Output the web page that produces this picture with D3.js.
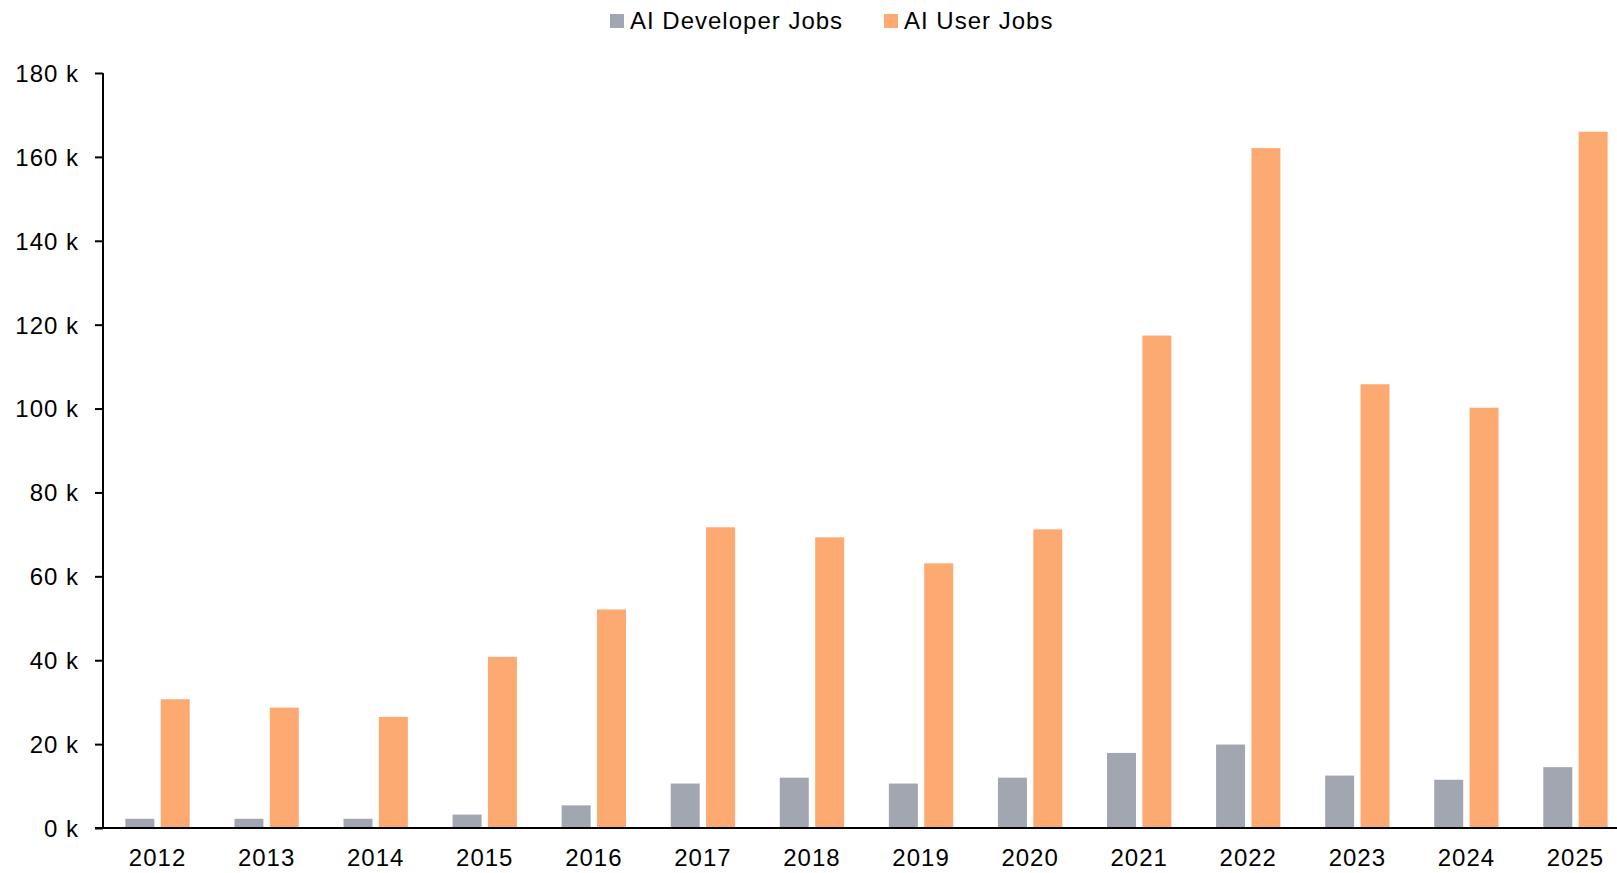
<!DOCTYPE html>
<html lang="en">
<head>
    <meta charset="UTF-8">
    <title>AI jobs</title>
    <script src="https://d3js.org/d3.v7.min.js"></script>
    <style>
        body {
            margin: 0;
            padding: 0;
            background: #fff;
            overflow: hidden;
        }

        #chart text {
            font-family: "Liberation Sans", Arial, sans-serif;
            font-size: 24px;
            letter-spacing: 1px;
            fill: #000;
        }
    </style>
</head>
<body>
<svg id="chart" width="1617" height="873"></svg>
<script>
    var years = ['2012', '2013', '2014', '2015', '2016', '2017', '2018', '2019', '2020', '2021', '2022', '2023', '2024', '2025'];
    var developerJobs = [2.2, 2.2, 2.2, 3.2, 5.4, 10.6, 12.0, 10.6, 12.0, 17.9, 19.9, 12.5, 11.5, 14.5];
    var userJobs = [30.7, 28.7, 26.5, 40.8, 52.1, 71.7, 69.3, 63.1, 71.2, 117.4, 162.1, 105.8, 100.2, 166.0];
    var seriesNames = ['AI Developer Jobs', 'AI User Jobs'];
    var seriesColors = ['#a1a6b1', '#fdaa72'];
    var yTicks = [0, 20, 40, 60, 80, 100, 120, 140, 160, 180];

    (function () {
        var svg = d3.select('#chart');
        var left = 103, top = 73, bottom = 828;

        var x = d3.scaleBand().domain(years).range([left, 1630]).paddingInner(0.41).paddingOuter(0.205);
        var inner = d3.scaleBand().domain(seriesNames).range([0, x.bandwidth()]).paddingInner(0.18);
        var y = d3.scaleLinear().domain([0, 180]).range([bottom, top]);

        var groups = svg.append('g')
            .selectAll('g')
            .data(years)
            .join('g')
            .attr('transform', function (d) {
                return 'translate(' + x(d) + ',0)';
            });

        groups.selectAll('rect')
            .data(function (d, i) {
                return [
                    {name: seriesNames[0], value: developerJobs[i]},
                    {name: seriesNames[1], value: userJobs[i]}
                ];
            })
            .join('rect')
            .attr('x', function (d) {
                return inner(d.name);
            })
            .attr('width', inner.bandwidth())
            .attr('y', function (d) {
                return y(d.value);
            })
            .attr('height', function (d) {
                return bottom - y(d.value);
            })
            .attr('fill', function (d, i) {
                return seriesColors[i];
            });

        // y axis
        var yAxis = svg.append('g')
            .attr('transform', 'translate(' + left + ',0)')
            .call(d3.axisLeft(y).tickValues(yTicks).tickSize(8).tickPadding(16)
                .tickFormat(function (d) {
                    return d + ' k';
                }));
        yAxis.select('.domain').attr('stroke', '#000').attr('stroke-width', 2).attr('d', 'M0,' + top + 'V' + bottom);
        yAxis.selectAll('.tick line').attr('stroke', '#000').attr('stroke-width', 2);
        yAxis.selectAll('text').attr('font-size', null).attr('font-family', null).attr('dy', '0.35em');

        // x axis
        var xAxis = svg.append('g')
            .attr('transform', 'translate(0,' + bottom + ')')
            .call(d3.axisBottom(x).tickSize(0).tickPadding(21));
        xAxis.select('.domain').attr('stroke', '#000').attr('stroke-width', 2).attr('d', 'M' + (left - 8) + ',0H1617');
        xAxis.selectAll('text').attr('font-size', null).attr('font-family', null);

        // legend
        var legend = svg.append('g').attr('transform', 'translate(610,0)');
        var item = legend.selectAll('g')
            .data(seriesNames)
            .join('g')
            .attr('transform', function (d, i) {
                return 'translate(' + (i === 0 ? 0 : 274) + ',0)';
            });
        item.append('rect')
            .attr('x', 0).attr('y', 14).attr('width', 14).attr('height', 14)
            .attr('fill', function (d, i) {
                return seriesColors[i];
            });
        item.append('text')
            .attr('x', 20).attr('y', 21).attr('dy', '0.35em')
            .text(function (d) {
                return d;
            });
    })();
</script>
</body>
</html>
